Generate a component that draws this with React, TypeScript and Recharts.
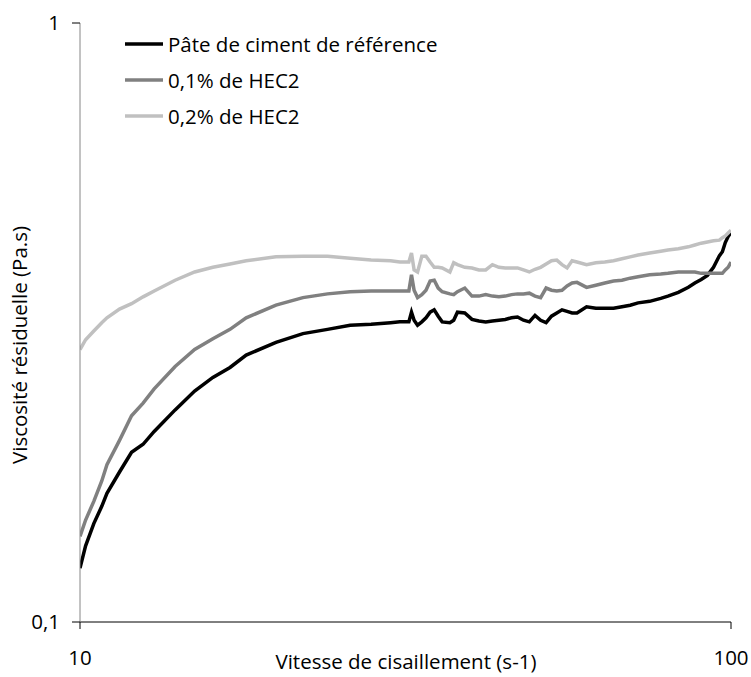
import React from 'react';
import { LineChart, Line, XAxis, YAxis, Legend } from 'recharts';

// shear rate (s-1), shared by the three series
const shearRates = [
  10, 10.2, 10.5, 10.8, 11, 11.5, 12, 12.5, 13, 14, 15, 16, 17, 18, 20, 22, 24, 26, 28, 30,
  31, 32, 32.3, 32.6, 33, 33.5, 34, 34.5, 35, 35.5, 36, 37, 37.5, 38, 39, 40, 41, 42, 43, 44,
  45, 46, 47, 48, 49, 50, 51, 52, 53, 54, 55, 56, 57, 58, 60, 62, 64, 66, 68, 70,
  72, 75, 78, 80, 83, 86, 88, 90, 92, 94, 96, 97, 98, 99, 100,
];

const refPaste = [
  0.123, 0.134, 0.146, 0.156, 0.164, 0.178, 0.192, 0.198, 0.208, 0.226, 0.243, 0.256, 0.266, 0.279, 0.293, 0.303, 0.308, 0.313, 0.314, 0.316,
  0.317, 0.317, 0.329, 0.319, 0.313, 0.317, 0.322, 0.329, 0.332, 0.324, 0.317, 0.316, 0.319, 0.329, 0.328, 0.320, 0.318, 0.317, 0.318, 0.319,
  0.320, 0.322, 0.323, 0.319, 0.317, 0.325, 0.319, 0.316, 0.324, 0.328, 0.332, 0.330, 0.328, 0.328, 0.336, 0.334, 0.334, 0.334, 0.336, 0.338,
  0.341, 0.343, 0.347, 0.350, 0.355, 0.362, 0.368, 0.373, 0.379, 0.391, 0.409, 0.415, 0.430, 0.440, 0.447,
];

const hec01 = [
  0.139, 0.148, 0.159, 0.172, 0.183, 0.201, 0.221, 0.232, 0.245, 0.267, 0.285, 0.297, 0.308, 0.322, 0.338, 0.348, 0.353, 0.356, 0.357, 0.357,
  0.357, 0.357, 0.380, 0.358, 0.348, 0.352, 0.358, 0.371, 0.372, 0.361, 0.356, 0.353, 0.352, 0.356, 0.361, 0.350, 0.350, 0.352, 0.350, 0.349,
  0.350, 0.352, 0.353, 0.353, 0.354, 0.350, 0.348, 0.361, 0.358, 0.357, 0.358, 0.364, 0.368, 0.369, 0.362, 0.365, 0.368, 0.371, 0.372, 0.375,
  0.377, 0.380, 0.381, 0.382, 0.384, 0.384, 0.384, 0.382, 0.382, 0.382, 0.382, 0.382, 0.387, 0.391, 0.399,
];

const hec02 = [
  0.285, 0.296, 0.306, 0.316, 0.322, 0.333, 0.340, 0.349, 0.357, 0.372, 0.384, 0.391, 0.396, 0.401, 0.407, 0.408, 0.408, 0.405, 0.402, 0.401,
  0.399, 0.399, 0.413, 0.387, 0.384, 0.408, 0.408, 0.399, 0.391, 0.391, 0.390, 0.384, 0.398, 0.395, 0.391, 0.390, 0.387, 0.387, 0.395, 0.391,
  0.390, 0.390, 0.390, 0.387, 0.384, 0.388, 0.391, 0.396, 0.401, 0.402, 0.395, 0.390, 0.401, 0.399, 0.395, 0.398, 0.399, 0.401, 0.404, 0.407,
  0.410, 0.413, 0.416, 0.418, 0.420, 0.423, 0.426, 0.429, 0.431, 0.433, 0.434, 0.438, 0.441, 0.446, 0.451,
];

const xTicks = [10, 100];
const yTicks = [0.1, 1];

const SERIES = [
  { key: 'ref', name: 'Pâte de ciment de référence', color: '#000000' },
  { key: 'h01', name: '0,1% de HEC2', color: '#808080' },
  { key: 'h02', name: '0,2% de HEC2', color: '#c0c0c0' },
];

const data = shearRates.map((x, i) => ({ x, ref: refPaste[i], h01: hec01[i], h02: hec02[i] }));

const FONT = '"Open Sans", "Noto Sans", sans-serif';
const FS = 20.5;

const LegendBox = () => (
  <div style={{ fontFamily: FONT, fontSize: FS, color: '#000', lineHeight: '36px' }}>
    {SERIES.map(s => (
      <div key={s.key} style={{ display: 'flex', alignItems: 'center', height: 36 }}>
        <svg width={40} height={6} style={{ marginRight: 3 }}>
          <line x1={0} y1={3} x2={38} y2={3} stroke={s.color} strokeWidth={3.5} />
        </svg>
        <span style={{ whiteSpace: 'nowrap' }}>{s.name}</span>
      </div>
    ))}
  </div>
);

export default function App() {
  return (
    <div style={{ position: 'absolute', left: 0, top: 0, width: 751, height: 677, background: '#fff' }}>
      <LineChart width={751} height={677} data={data} margin={{ top: 23, right: 20, bottom: 0, left: 0 }}>
        <XAxis
          dataKey="x"
          type="number"
          scale="log"
          domain={[10, 100]}
          ticks={xTicks}
          allowDataOverflow
          height={55}
          stroke="#000"
          tickSize={7}
          tickMargin={21}
          tick={{ fill: '#000', fontSize: FS, fontFamily: FONT }}
          label={() => (
            <text x={406} y={669} textAnchor="middle" fontSize={FS} fontFamily={FONT} fill="#000">
              Vitesse de cisaillement (s-1)
            </text>
          )}
        />
        <YAxis
          type="number"
          scale="log"
          domain={[0.1, 1]}
          ticks={yTicks}
          allowDataOverflow
          width={80}
          stroke="#868686"
          tickLine={{ stroke: '#000' }}
          tickSize={8}
          tickMargin={12}
          tickFormatter={(v: number) => String(v).replace('.', ',')}
          tick={{ fill: '#000', fontSize: FS, fontFamily: FONT }}
        />
        <Legend
          layout="vertical"
          verticalAlign="middle"
          align="center"
          wrapperStyle={{ top: 26, left: 125, width: 'auto', height: 'auto' }}
          content={() => <LegendBox />}
        />
        {SERIES.map(s => (
          <Line
            key={s.key}
            dataKey={s.key}
            name={s.name}
            stroke={s.color}
            strokeWidth={3.5}
            dot={false}
            isAnimationActive={false}
          />
        ))}
      </LineChart>
      <svg width={40} height={677} style={{ position: 'absolute', left: 0, top: 0, pointerEvents: 'none' }}>
        <text x={27} y={345} transform="rotate(-90 27 345)" textAnchor="middle" fontSize={FS} fontFamily={FONT} fill="#000">
          Viscosité résiduelle (Pa.s)
        </text>
      </svg>
    </div>
  );
}
